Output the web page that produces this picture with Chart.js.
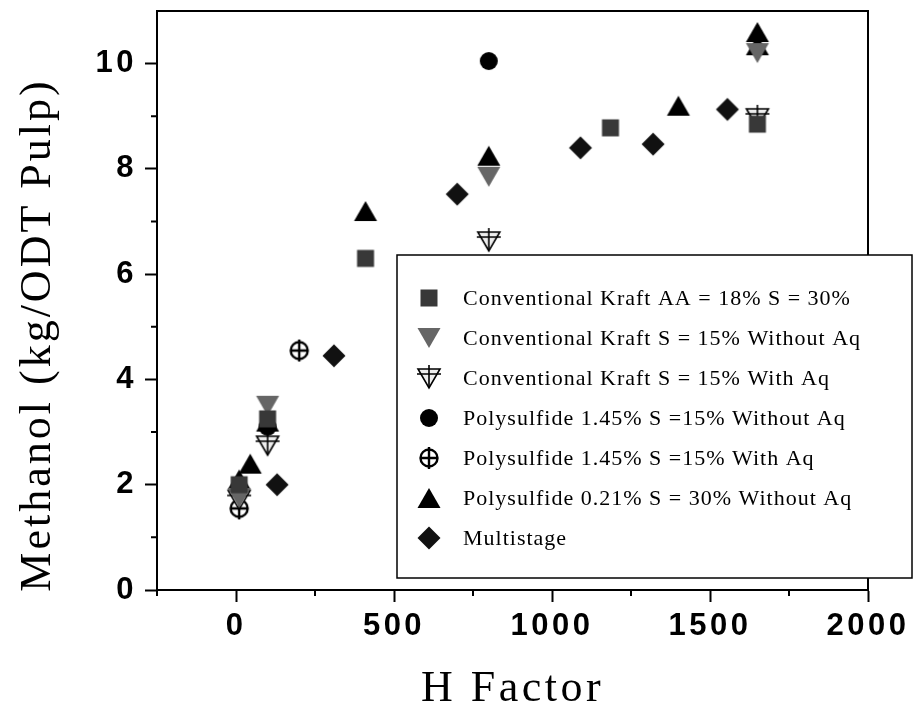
<!DOCTYPE html>
<html>
<head>
<meta charset="utf-8">
<script src="https://cdn.jsdelivr.net/npm/chart.js@4.4.1/dist/chart.umd.min.js"></script>
<style>
  html, body { margin: 0; padding: 0; background: #fff; }
  #chart { display: block; }
</style>
</head>
<body>
<canvas id="chart" width="915" height="711"></canvas>
<script>
// --- values (H factor, kg methanol / ODT pulp) ---
const seriesNames = [
  'Conventional Kraft AA = 18% S = 30%',
  'Conventional Kraft S = 15% Without Aq',
  'Conventional Kraft S = 15% With Aq',
  'Polysulfide 1.45% S =15% Without Aq',
  'Polysulfide 1.45% S =15% With Aq',
  'Polysulfide 0.21% S = 30% Without Aq',
  'Multistage'
];
const kraftAA18 = [
  { x: 10, y: 2.0 }, { x: 100, y: 3.25 }, { x: 410, y: 6.3 },
  { x: 1185, y: 8.78 }, { x: 1650, y: 8.85 }
];
const kraft15NoAq = [
  { x: 10, y: 1.75 }, { x: 100, y: 3.5 }, { x: 800, y: 7.85 }, { x: 1650, y: 10.2 }
];
const kraft15Aq = [
  { x: 10, y: 1.72 }, { x: 100, y: 2.75 }, { x: 800, y: 6.63 }, { x: 1650, y: 8.97 }
];
const poly145NoAq = [
  { x: 10, y: 1.9 }, { x: 100, y: 3.1 }, { x: 800, y: 10.05 }
];
const poly145Aq = [
  { x: 10, y: 1.55 }, { x: 200, y: 4.55 }
];
const poly021NoAq = [
  { x: 10, y: 2.1 }, { x: 45, y: 2.4 }, { x: 100, y: 3.2 }, { x: 410, y: 7.2 },
  { x: 800, y: 8.25 }, { x: 1400, y: 9.2 }, { x: 1650, y: 10.35 }, { x: 1650, y: 10.6 }
];
const multistage = [
  { x: 130, y: 2.0 }, { x: 310, y: 4.45 }, { x: 700, y: 7.52 },
  { x: 1090, y: 8.4 }, { x: 1320, y: 8.47 }, { x: 1555, y: 9.13 }
];

const xMajorTicks = [0, 500, 1000, 1500, 2000];
const xMinorTicks = [-250, 250, 750, 1250, 1750];
const yMajorTicks = [0, 2, 4, 6, 8, 10];
const yMinorTicks = [1, 3, 5, 7, 9];
const xTitle = 'H Factor';
const yTitle = 'Methanol (kg/ODT Pulp)';

// --- marker images, so plot and legend use the same symbols ---
function makeMarker(kind) {
  const c = document.createElement('canvas');
  c.width = 30; c.height = 30;
  const g = c.getContext('2d');
  g.translate(15, 15);
  g.lineWidth = 1.6;
  g.strokeStyle = '#000';
  g.beginPath();
  switch (kind) {
    case 'square':
      g.fillStyle = '#383838';
      g.fillRect(-8.5, -8.5, 17, 17);
      break;
    case 'downTri':
      g.fillStyle = '#666';
      g.moveTo(-11.5, -10); g.lineTo(11.5, -10); g.lineTo(0, 10); g.closePath();
      g.fill();
      break;
    case 'downTriCross':
      g.fillStyle = '#eee';
      g.moveTo(-11, -9); g.lineTo(11, -9); g.lineTo(0, 10); g.closePath();
      g.fill(); g.stroke();
      g.beginPath();
      g.moveTo(0, -13); g.lineTo(0, 10);
      g.moveTo(-12, -4); g.lineTo(12, -4);
      g.stroke();
      break;
    case 'circle':
      g.fillStyle = '#000';
      g.arc(0, 0, 9, 0, Math.PI * 2);
      g.fill();
      break;
    case 'circleCross':
      g.lineWidth = 2.4;
      g.arc(0, 0, 8.5, 0, Math.PI * 2);
      g.stroke();
      g.beginPath();
      g.moveTo(0, -11); g.lineTo(0, 11);
      g.moveTo(-8.5, 0); g.lineTo(8.5, 0);
      g.stroke();
      break;
    case 'upTri':
      g.fillStyle = '#000';
      g.moveTo(0, -10); g.lineTo(11.5, 10); g.lineTo(-11.5, 10); g.closePath();
      g.fill();
      break;
    case 'diamond':
      g.fillStyle = '#111';
      g.moveTo(0, -11.5); g.lineTo(11.5, 0); g.lineTo(0, 11.5); g.lineTo(-11.5, 0); g.closePath();
      g.fill();
      break;
  }
  return c;
}

const markers = ['square', 'downTri', 'downTriCross', 'circle', 'circleCross', 'upTri', 'diamond']
  .map(makeMarker);
const seriesData = [kraftAA18, kraft15NoAq, kraft15Aq, poly145NoAq, poly145Aq, poly021NoAq, multistage];

// frame, minor ticks, y title and boxed legend
const overlay = {
  id: 'overlay',
  beforeDraw(chart) {
    chart.ctx.letterSpacing = '3.5px';
  },
  afterDraw(chart) {
    const { ctx, chartArea: a, scales: { x, y } } = chart;
    ctx.save();
    ctx.strokeStyle = '#000';
    ctx.lineWidth = 2;
    ctx.beginPath();
    ctx.moveTo(a.left, a.top); ctx.lineTo(a.right, a.top); ctx.lineTo(a.right, a.bottom);
    ctx.stroke();

    ctx.beginPath();
    xMinorTicks.forEach(v => {
      const px = x.getPixelForValue(v);
      ctx.moveTo(px, a.bottom); ctx.lineTo(px, a.bottom + 6);
    });
    yMinorTicks.forEach(v => {
      const py = y.getPixelForValue(v);
      ctx.moveTo(a.left, py); ctx.lineTo(a.left - 6, py);
    });
    ctx.stroke();

    // y axis title
    ctx.save();
    ctx.translate(50, 335);
    ctx.rotate(-Math.PI / 2);
    ctx.font = '44px "Liberation Serif"';
    ctx.letterSpacing = '3px';
    ctx.fillStyle = '#000';
    ctx.textAlign = 'center';
    ctx.textBaseline = 'alphabetic';
    ctx.fillText(yTitle, 0, 0);
    ctx.restore();

    // legend box
    const box = { left: 397, top: 255, right: 912, bottom: 578 };
    ctx.fillStyle = '#fff';
    ctx.fillRect(box.left, box.top, box.right - box.left, box.bottom - box.top);
    ctx.lineWidth = 1.5;
    ctx.strokeRect(box.left, box.top, box.right - box.left, box.bottom - box.top);
    ctx.font = '22px "Liberation Serif"';
    ctx.letterSpacing = '1px';
    ctx.fillStyle = '#000';
    ctx.textAlign = 'left';
    ctx.textBaseline = 'middle';
    seriesNames.forEach((name, i) => {
      const cy = 298 + i * 40;
      const m = markers[i];
      ctx.drawImage(m, 429 - m.width / 2, cy - m.height / 2);
      ctx.fillText(name, 463, cy + 1);
    });
    ctx.restore();
  }
};

const tickFont = { family: '"Liberation Sans", Arial, sans-serif', size: 31, weight: 'bold' };

new Chart(document.getElementById('chart'), {
  type: 'scatter',
  data: {
    datasets: seriesData.map((d, i) => ({
      label: seriesNames[i],
      data: d,
      pointStyle: markers[i],
      pointRadius: 10,
      showLine: false
    }))
  },
  options: {
    responsive: false,
    animation: false,
    devicePixelRatio: 1,
    layout: { padding: { top: 10, right: 47, left: 0, bottom: 0 } },
    plugins: {
      legend: { display: false },
      tooltip: { enabled: false }
    },
    scales: {
      x: {
        type: 'linear',
        min: -250,
        max: 2000,
        afterBuildTicks: s => { s.ticks = xMajorTicks.map(v => ({ value: v })); },
        afterFit: s => { s.height = 121; s.paddingLeft = 0; s.paddingRight = 0; },
        ticks: {
          font: tickFont, color: '#000', padding: 6, maxRotation: 0, autoSkip: false,
          callback: v => String(v)
        },
        grid: { drawOnChartArea: false, tickLength: 12, tickWidth: 2, tickColor: '#000' },
        border: { color: '#000', width: 2 },
        title: {
          display: true,
          text: xTitle,
          color: '#000',
          font: { family: '"Liberation Serif", serif', size: 44, lineHeight: 1 },
          padding: { top: 0, bottom: 0 }
        }
      },
      y: {
        type: 'linear',
        min: 0,
        max: 11,
        afterBuildTicks: s => { s.ticks = yMajorTicks.map(v => ({ value: v })); },
        afterFit: s => { s.width = 157; s.paddingTop = 0; s.paddingBottom = 0; },
        ticks: { font: tickFont, color: '#000', padding: 8, callback: v => String(v) },
        grid: { drawOnChartArea: false, tickLength: 12, tickWidth: 2, tickColor: '#000' },
        border: { color: '#000', width: 2 }
      }
    }
  },
  plugins: [overlay]
});
</script>
</body>
</html>
